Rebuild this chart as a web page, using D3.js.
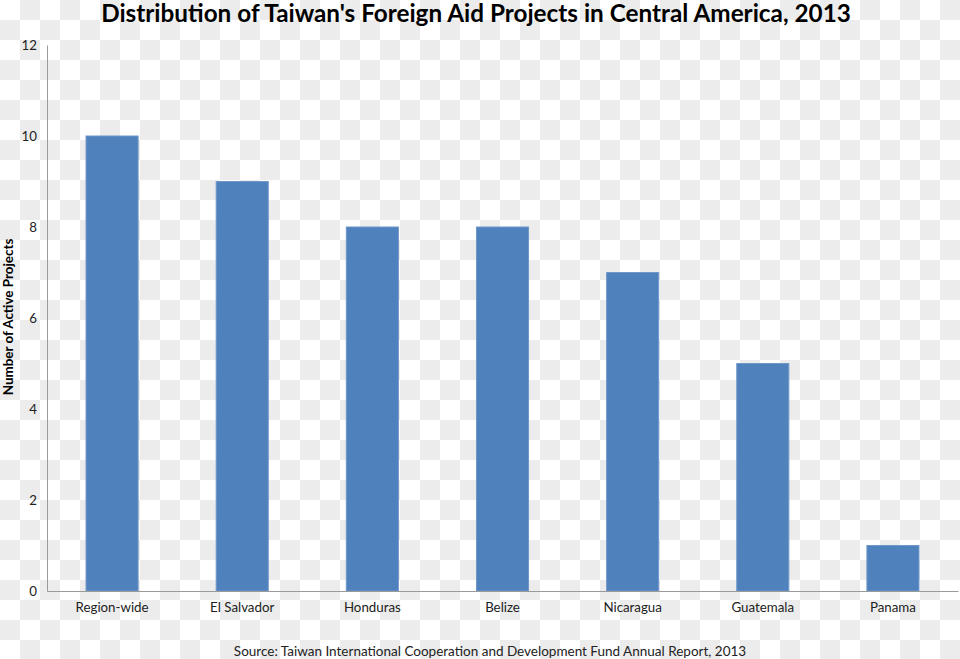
<!DOCTYPE html>
<html><head><meta charset="utf-8">
<script src="https://cdn.jsdelivr.net/npm/d3@7"></script>
<style>body{margin:0;padding:0;overflow:hidden}svg{display:block}</style>
</head><body>
<svg id="chart" width="960" height="659"></svg>
<script>
const categories = ["Region-wide","El Salvador","Honduras","Belize","Nicaragua","Guatemala","Panama"];
const values = [10, 9, 8, 8, 7, 5, 1];
const yTicks = [0, 2, 4, 6, 8, 10, 12];
const titleText = "Distribution of Taiwan's Foreign Aid Projects in Central America, 2013";
const yTitle = "Number of Active Projects";
const sourceText = "Source: Taiwan International Cooperation and Development Fund Annual Report, 2013";

const W = 960, H = 659;
const svg = d3.select("#chart");
const font = "Lato, 'Open Sans', sans-serif";

// checkerboard background
const defs = svg.append("defs");
const pat = defs.append("pattern").attr("id","chk").attr("width",40).attr("height",40).attr("patternUnits","userSpaceOnUse");
pat.append("rect").attr("width",40).attr("height",40).attr("fill","#ffffff");
pat.append("rect").attr("x",20).attr("y",0).attr("width",20).attr("height",20).attr("fill","#ececec");
pat.append("rect").attr("x",0).attr("y",20).attr("width",20).attr("height",20).attr("fill","#ececec");
svg.append("rect").attr("width",W).attr("height",H).attr("fill","url(#chk)");

const mLeft = 47, mRight = 958, mTop = 45, mBottom = 591;
const x = d3.scaleBand().domain(categories).range([mLeft, mRight]).paddingInner(0.6).paddingOuter(0.3);
const y = d3.scaleLinear().domain([0, 12]).range([mBottom, mTop]);

svg.append("g").selectAll("rect").data(values).join("rect")
  .attr("x",(d,i)=>x(categories[i]))
  .attr("y",d=>y(d))
  .attr("width",x.bandwidth())
  .attr("height",d=>y(0)-y(d))
  .attr("fill","#4f81bd")
  .attr("stroke","#6f97c8").attr("stroke-width",1);

// y axis
const yAxis = d3.axisLeft(y).tickValues(yTicks).tickSize(0).tickPadding(10);
const gy = svg.append("g").attr("transform",`translate(${mLeft},0)`).call(yAxis);
gy.select(".domain").attr("stroke","#9a9a9a");
gy.selectAll("text").attr("font-family",font).attr("font-size",13.3).attr("fill","#222");

// x axis
const xAxis = d3.axisBottom(x).tickSize(0).tickPadding(12);
const gx = svg.append("g").attr("transform",`translate(0,${mBottom})`).call(xAxis);
gx.select(".domain").attr("stroke","#9a9a9a");
gx.selectAll("text").attr("font-family",font).attr("font-size",13.3).attr("fill","#222");

svg.append("text").attr("x",476).attr("y",22).attr("text-anchor","middle")
  .attr("font-family",font).attr("font-weight","bold").attr("font-size",24.3).attr("fill","#000").text(titleText);

svg.append("text").attr("transform","translate(12.5,317) rotate(-90)").attr("text-anchor","middle")
  .attr("font-family",font).attr("font-weight","bold").attr("font-size",13.4).attr("fill","#000").text(yTitle);

svg.append("text").attr("x",490).attr("y",656).attr("text-anchor","middle")
  .attr("font-family",font).attr("font-size",13.5).attr("fill","#222").text(sourceText);
</script>
</body></html>
